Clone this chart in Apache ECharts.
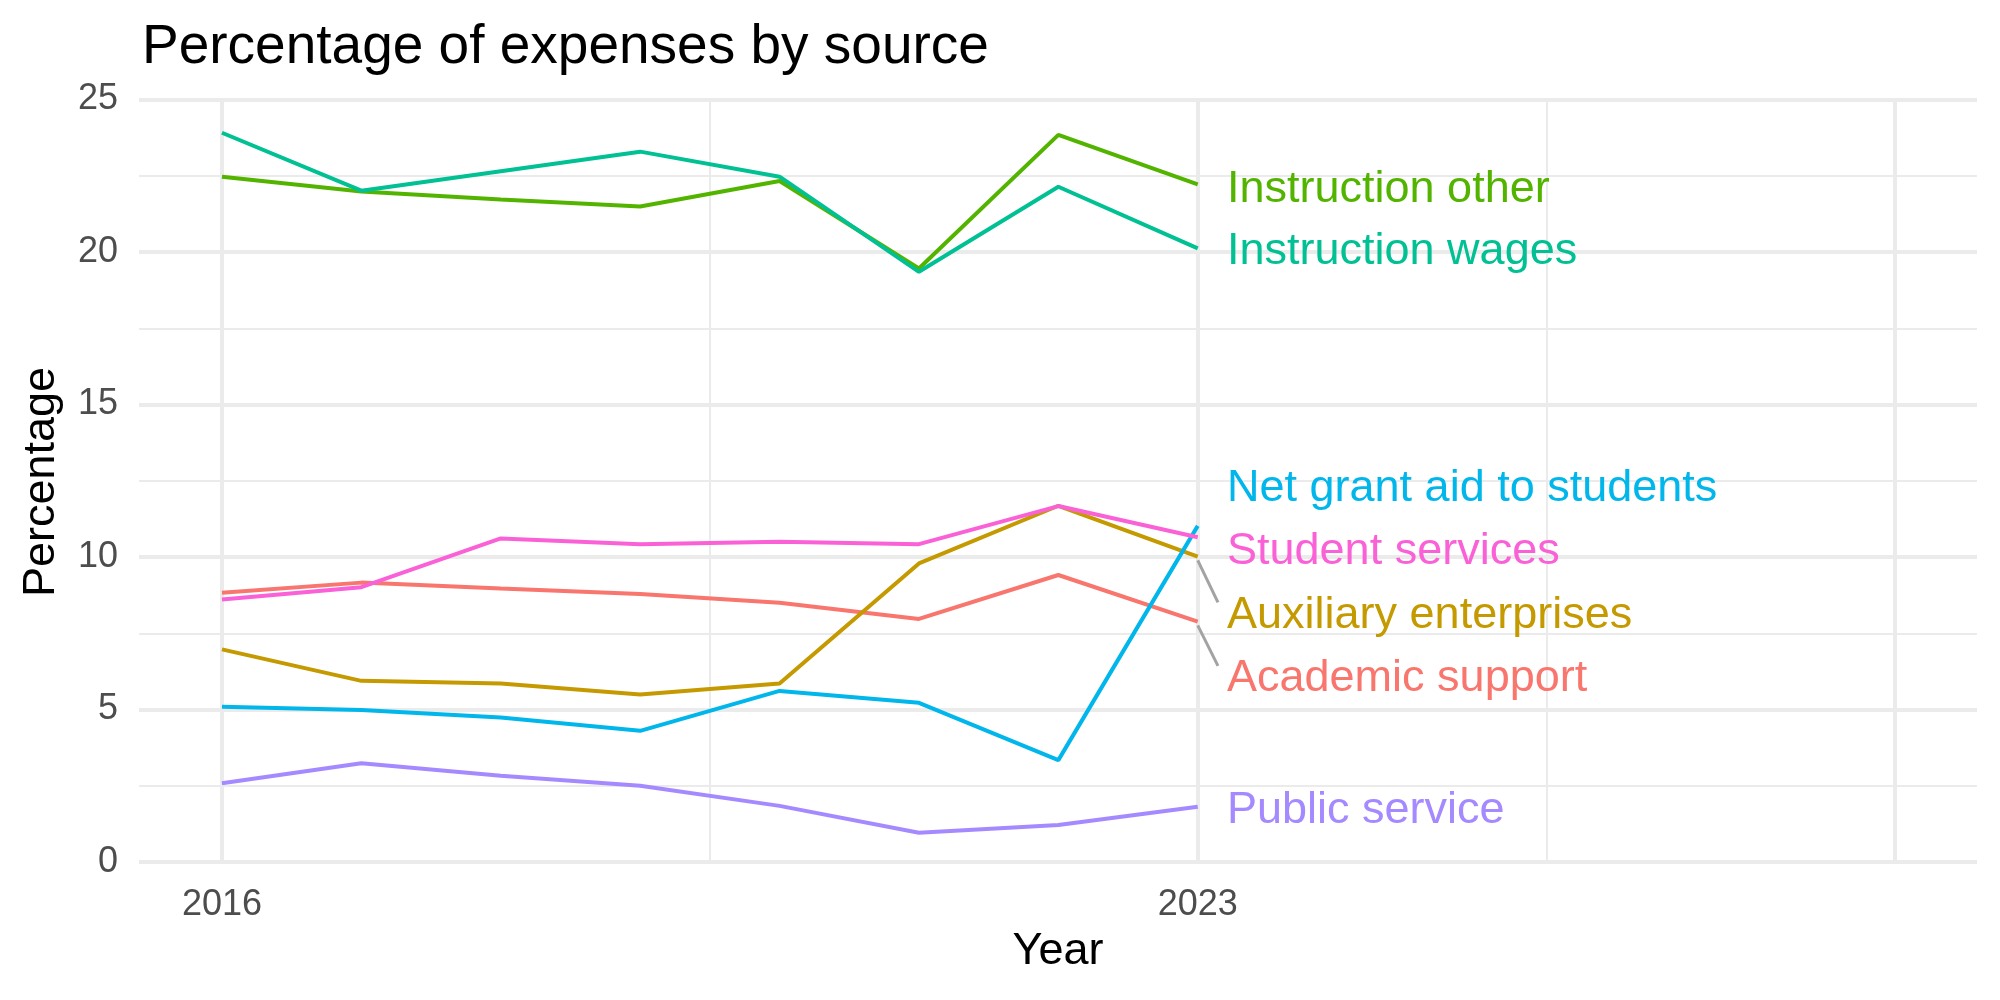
<!DOCTYPE html>
<html>
<head>
<meta charset="utf-8">
<script src="https://cdn.jsdelivr.net/npm/echarts@6/dist/echarts.min.js"></script>
<style>
  html, body { margin: 0; padding: 0; background: #ffffff; }
  #chart { width: 2000px; height: 1000px; }
</style>
</head>
<body>
<div id="chart"></div>
<script>
// years on the x axis
const years = [2016, 2017, 2018, 2019, 2020, 2021, 2022, 2023];

// values (percent)
const academicSupport = [8.83, 9.16, 8.97, 8.79, 8.50, 7.97, 9.41, 7.88];
const auxiliaryEnterprises = [6.97, 5.94, 5.85, 5.49, 5.85, 9.79, 11.68, 10.01];
const instructionOther = [22.47, 21.98, 21.72, 21.49, 22.33, 19.46, 23.84, 22.22];
const instructionWages = [23.91, 22.01, 22.65, 23.29, 22.47, 19.35, 22.14, 20.12];
const netGrantAid = [5.09, 4.98, 4.74, 4.30, 5.61, 5.22, 3.34, 11.02];
const publicService = [2.58, 3.24, 2.83, 2.50, 1.84, 0.96, 1.21, 1.81];
const studentServices = [8.61, 9.01, 10.61, 10.42, 10.50, 10.42, 11.67, 10.65];

const seriesNames = ["Academic support", "Auxiliary enterprises", "Instruction other",
  "Instruction wages", "Net grant aid to students", "Public service", "Student services"];
const seriesValues = [academicSupport, auxiliaryEnterprises, instructionOther,
  instructionWages, netGrantAid, publicService, studentServices];
const colors = ["#F8766D", "#C49A00", "#53B400", "#00C094", "#00B6EB", "#A58AFF", "#FB61D7"];

// repelled label heights (same order as seriesNames)
const labelY = [6.10, 8.18, 22.16, 20.10, 12.33, 1.79, 10.26];
const labelX = 2023.21;
// which labels get a connector segment
const withSegment = [true, true, false, false, false, false, false];

const xTickLabels = [2016, 2023];
const xMajorGrid = [2016, 2023, 2028];
const xMinorGrid = [2019.5, 2025.5];

const FONT = "'Liberation Sans', Arial, Helvetica, sans-serif";

let chart = echarts.init(document.getElementById("chart"));

let series = [];
// vertical grid lines
series.push({
  type: "line",
  data: [],
  z: 0,
  silent: true,
  markLine: {
    silent: true,
    z: 0,
    symbol: "none",
    label: { show: false },
    animation: false,
    data: xMajorGrid.map(v => ({ xAxis: v, lineStyle: { color: "#EBEBEB", width: 4, type: "solid" } }))
      .concat(xMinorGrid.map(v => ({ xAxis: v, lineStyle: { color: "#EBEBEB", width: 2, type: "solid" } })))
  }
});

seriesNames.forEach((name, i) => {
  series.push({
    name: name,
    type: "line",
    data: years.map((y, j) => [y, seriesValues[i][j]]),
    showSymbol: false,
    symbol: "none",
    lineStyle: { color: colors[i], width: 4 },
    itemStyle: { color: colors[i] },
    z: 2
  });
});

// connector segments (point -> label)
seriesNames.forEach((name, i) => {
  if (!withSegment[i]) return;
  let last = seriesValues[i][seriesValues[i].length - 1];
  series.push({
    type: "line",
    data: [[years[years.length - 1], last - 0.12], [labelX - 0.065, labelY[i] + 0.33]],
    symbol: "none",
    silent: true,
    lineStyle: { color: "#A3A3A3", width: 3 },
    z: 3
  });
});

// text labels
series.push({
  type: "scatter",
  symbolSize: 0,
  silent: true,
  z: 10,
  itemStyle: { opacity: 1 },
  data: seriesNames.map((name, i) => ({
    name: name,
    value: [labelX, labelY[i]],
    label: { color: colors[i] }
  })),
  label: {
    show: true,
    position: "right",
    distance: 0,
    offset: [0, 3],
    opacity: 1,
    formatter: p => p.name,
    fontSize: 45,
    fontFamily: FONT
  }
});

chart.setOption({
  animation: false,
  backgroundColor: "#ffffff",
  title: {
    text: "Percentage of expenses by source",
    left: 137,
    top: 15,
    textStyle: { fontSize: 55, fontWeight: "normal", color: "#000000", fontFamily: FONT }
  },
  grid: { left: 139, right: 23, top: 99.5, bottom: 138 },
  xAxis: {
    type: "value",
    min: 2015.405,
    max: 2028.59,
    splitLine: { show: false },
    axisLine: { show: false },
    axisTick: { show: false },
    axisLabel: {
      customValues: xTickLabels,
      formatter: v => String(v),
      margin: 25,
      fontSize: 36,
      color: "#4D4D4D",
      fontFamily: FONT
    }
  },
  yAxis: {
    type: "value",
    min: 0,
    max: 25,
    interval: 5,
    axisLine: { show: false },
    axisTick: { show: false },
    axisLabel: { margin: 21, fontSize: 36, color: "#4D4D4D", fontFamily: FONT },
    splitLine: { show: true, lineStyle: { color: "#EBEBEB", width: 4 } },
    minorTick: { show: false, splitNumber: 2 },
    minorSplitLine: { show: true, lineStyle: { color: "#EBEBEB", width: 2 } }
  },
  graphic: [
    {
      type: "text",
      x: 1058,
      y: 952,
      style: { text: "Year", font: "45px " + FONT, fill: "#000000", textAlign: "center", textVerticalAlign: "middle" }
    },
    {
      type: "text",
      x: 42,
      y: 482,
      rotation: Math.PI / 2,
      style: { text: "Percentage", font: "45px " + FONT, fill: "#000000", textAlign: "center", textVerticalAlign: "middle" }
    }
  ],
  series: series
});
</script>
</body>
</html>
